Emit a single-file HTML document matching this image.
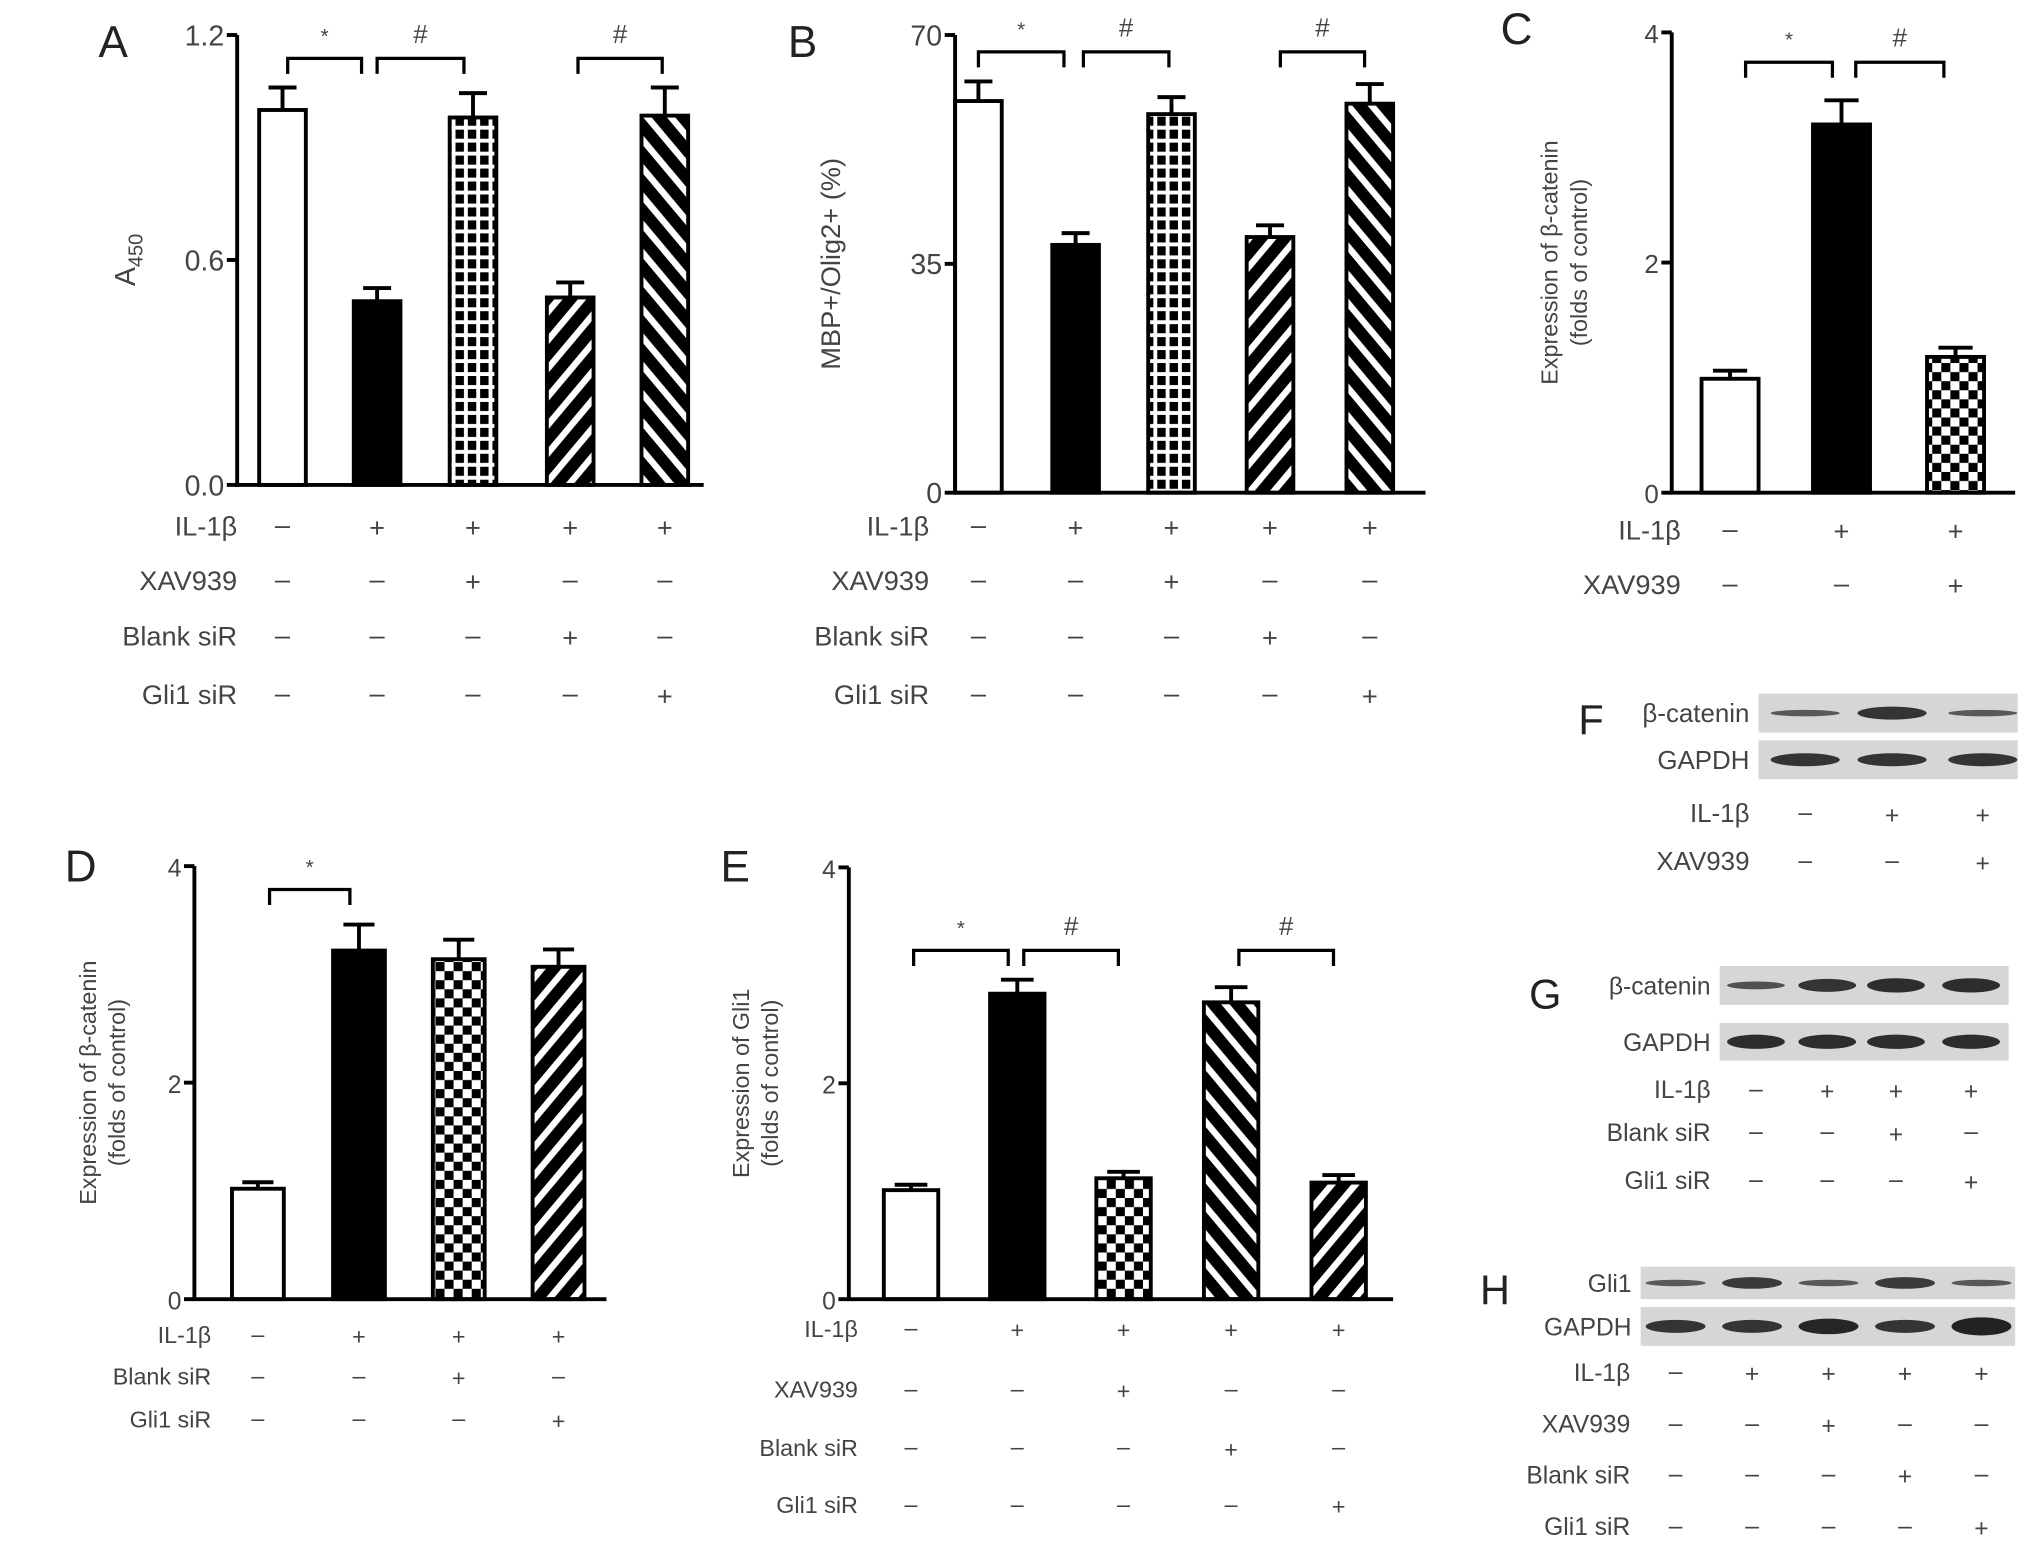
<!DOCTYPE html>
<html><head><meta charset="utf-8"><style>
html,body{margin:0;padding:0;background:#fff;}
svg{display:block;}
text{font-family:"Liberation Sans",sans-serif;fill:#444;}
</style></head><body>
<svg id="fig" xmlns="http://www.w3.org/2000/svg" width="2032" height="1552" viewBox="0 0 1568 1197" preserveAspectRatio="none">
<defs>
<pattern id="grid" patternUnits="userSpaceOnUse" width="9.5" height="10">
<rect width="9.5" height="10" fill="#000"/><rect x="0" y="7" width="9.5" height="3" fill="#fff"/><rect x="6.5" y="0" width="3" height="10" fill="#fff"/></pattern>
<pattern id="fwd" patternUnits="userSpaceOnUse" width="14" height="14" patternTransform="rotate(40)">
<rect width="14" height="14" fill="#000"/><rect x="0" y="0" width="5" height="14" fill="#fff"/></pattern>
<pattern id="back" patternUnits="userSpaceOnUse" width="14" height="14" patternTransform="rotate(-40)">
<rect width="14" height="14" fill="#000"/><rect x="0" y="0" width="5" height="14" fill="#fff"/></pattern>
<pattern id="check" patternUnits="userSpaceOnUse" width="14" height="14">
<rect width="14" height="14" fill="#fff"/><rect width="7" height="7" fill="#000"/><rect x="7" y="7" width="7" height="7" fill="#000"/></pattern>
</defs>
<g id="root"></g>
</svg>
<script>
const NS="http://www.w3.org/2000/svg";
// Panel data
const aValues=[1.0,0.49,0.98,0.50,0.985];
const aErrors=[0.06,0.035,0.065,0.04,0.075];
const aTicks=["0.0","0.6","1.2"];
const bValues=[59.9,37.9,57.9,39.1,59.5];
const bErrors=[3.0,1.8,2.6,1.8,3.0];
const bTicks=["0","35","70"];
const cValues=[0.99,3.2,1.18];
const cErrors=[0.07,0.21,0.08];
const cTicks=["0","2","4"];
const dValues=[1.02,3.22,3.14,3.07];
const dErrors=[0.06,0.24,0.18,0.16];
const dTicks=["0","2","4"];
const eValues=[1.01,2.83,1.12,2.75,1.08];
const eErrors=[0.05,0.13,0.06,0.14,0.07];
const eTicks=["0","2","4"];

const root=document.getElementById('root');
function el(tag,attrs,parent){const e=document.createElementNS(NS,tag);for(const k in attrs)e.setAttribute(k,attrs[k]);(parent||root).appendChild(e);return e;}
function txt(s,x,y,size,anchor,parent,extra){const t=el('text',Object.assign({x:x,y:y,'font-size':size,'text-anchor':anchor||'start'},extra||{}),parent);t.textContent=s;return t;}

function panel(p){
  const g=el('g',{});
  
  
  const ymax=p.ymax;
  const Y=v=>p.y0-(v/ymax)*(p.y0-p.ytop);
  const X=i=>p.xs[i];
  // bars
  p.values.forEach((v,i)=>{
    const b=el('rect',{x:X(i)-p.bw/2,y:Y(v),width:p.bw,height:p.y0-Y(v),fill:p.fills[i],stroke:'#000','stroke-width':3},g);
    
    
    const et=Y(v+p.errors[i]);
    const e=el('path',{d:`M${X(i)} ${Y(v)}V${et}M${X(i)-p.bw*0.3} ${et}H${X(i)+p.bw*0.3}`,stroke:'#000','stroke-width':3,fill:'none'},g);
    
    
  });
  // axes
  const ax=el('path',{d:`M${p.ax} ${p.ytop}V${p.y0}H${p.xend}`,stroke:'#000','stroke-width':3,fill:'none'},g);
  
  
  p.ticks.forEach((t,i)=>{
    const v=ymax*i/(p.ticks.length-1);
    el('path',{d:`M${p.ax-8} ${Y(v)}H${p.ax}`,stroke:'#000','stroke-width':3},g);
    const tl=txt(t,p.ax-10,Y(v)+8,p.tfs,'end',g);
    
    
  });
  // letter
  const L=txt(p.letter,p.lx,p.ly,34,'start',g,{style:'fill:#222'});
  
  
  // y title
  const yt=el('text',{transform:`translate(${p.ytx},${(p.y0+p.ytop)/2}) rotate(-90)`,'text-anchor':'middle','font-size':p.ytfs},g);
  
  
  p.ytitle.forEach((line,i)=>{const ts=el('tspan',{x:0,dy:i?p.ytfs*1.25:0},yt);ts.textContent=line;});
  if(p.sub){const ts=el('tspan',{'font-size':p.ytfs*0.7,dy:6},yt);ts.textContent=p.sub;}
  // brackets
  p.brackets.forEach(b=>{
    const bk=el('path',{d:`M${b[0]} ${b[2]+12}V${b[2]}H${b[1]}V${b[2]+12}`,stroke:'#000','stroke-width':2.5,fill:'none'},g);
    
    
    const s=txt(b[3],(b[0]+b[1])/2,b[2]-12,b[3]=='*'?16:20,'middle',g);
    
    
  });
  // condition rows
  p.rows.forEach(r=>{
    const rl=txt(r[0],p.rx,r[1]+8,p.rfs,'end',g);
    
    
    r[2].split('').forEach((c,i)=>{
      const m=txt(c=='+'?'+':'–',p.xs[i],r[1]+(c=='+'?9:7),p.rfs,'middle',g);
      
      
    });
  });
}

panel({name:'panel-a',letter:'A',lx:76,ly:44,values:aValues,errors:aErrors,ticks:aTicks,ymax:1.2,ax:183,ytop:27,y0:374,xend:543,
 xs:[218,291,365,440,513],bw:36,fills:['#fff','#000','url(#grid)','url(#fwd)','url(#back)'],tfs:22,
 ytx:104,ytitle:['A'],sub:'450',ytfs:22,
 brackets:[[222,279,45,'*'],[291,358,45,'#'],[446,511,45,'#']],rx:183,rfs:21,
 rows:[['IL-1β',405,'-++++'],['XAV939',447,'--+--'],['Blank siR',490,'---+-'],['Gli1 siR',535,'----+']]});
panel({name:'panel-b',letter:'B',lx:608,ly:44,values:bValues,errors:bErrors,ticks:bTicks,ymax:70,ax:737,ytop:27,y0:380,xend:1100,
 xs:[755,830,904,980,1057],bw:36,fills:['#fff','#000','url(#grid)','url(#fwd)','url(#back)'],tfs:22,
 ytx:648,ytitle:['MBP+/Olig2+ (%)'],ytfs:21,
 brackets:[[755,821,40,'*'],[836,902,40,'#'],[988,1053,40,'#']],rx:717,rfs:21,
 rows:[['IL-1β',405,'-++++'],['XAV939',447,'--+--'],['Blank siR',490,'---+-'],['Gli1 siR',535,'----+']]});
panel({name:'panel-c',letter:'C',lx:1158,ly:34,values:cValues,errors:cErrors,ticks:cTicks,ymax:4,ax:1290,ytop:25,y0:380,xend:1555,
 xs:[1335,1421,1509],bw:44,fills:['#fff','#000','url(#check)'],tfs:20,
 ytx:1202,ytitle:['Expression of β-catenin','(folds of control)'],ytfs:18,
 brackets:[[1347,1414,48,'*'],[1432,1500,48,'#']],rx:1297,rfs:21,
 rows:[['IL-1β',408,'-++'],['XAV939',450,'--+']]});
panel({name:'panel-d',letter:'D',lx:50,ly:680,values:dValues,errors:dErrors,ticks:dTicks,ymax:4,ax:150,ytop:668,y0:1002,xend:468,
 xs:[199,277,354,431],bw:40,fills:['#fff','#000','url(#check)','url(#fwd)'],tfs:19,
 ytx:74,ytitle:['Expression of β-catenin','(folds of control)'],ytfs:18,
 brackets:[[208,270,686,'*']],rx:163,rfs:18,
 rows:[['IL-1β',1028,'-+++'],['Blank siR',1060,'--+-'],['Gli1 siR',1093,'---+']]});
panel({name:'panel-e',letter:'E',lx:556,ly:680,values:eValues,errors:eErrors,ticks:eTicks,ymax:4,ax:655,ytop:669,y0:1002,xend:1075,
 xs:[703,785,867,950,1033],bw:42,fills:['#fff','#000','url(#check)','url(#back)','url(#fwd)'],tfs:19,
 ytx:578,ytitle:['Expression of Gli1','(folds of control)'],ytfs:18,
 brackets:[[705,778,733,'*'],[790,863,733,'#'],[956,1029,733,'#']],rx:662,rfs:18,
 rows:[['IL-1β',1023,'-++++'],['XAV939',1070,'--+--'],['Blank siR',1115,'---+-'],['Gli1 siR',1159,'----+']]});

// Western blots
function blot(name,letter,lx,ly,box,lanes,strips,rows,rx,fs,markFs){
  const g=el('g',{});
  
  
  const L=txt(letter,lx,ly,32,'start',g,{style:'fill:#222'});
  
  
  strips.forEach(s=>{
    const r=el('rect',{x:box[0],y:s[1],width:box[1]-box[0],height:s[2],fill:'#d6d6d6'},g);
    
    
    const t=txt(s[0],box[0]-7,s[1]+s[2]/2+7,fs,'end',g);
    
    
    s[3].forEach((h,i)=>{
      const w=(box[1]-box[0])/lanes.length*0.8;
      const b=el('ellipse',{cx:lanes[i],cy:s[1]+s[2]/2,rx:w/2,ry:h,fill:'#222',opacity:0.5+h*0.08},g);
      
      
    });
  });
  rows.forEach(r=>{
    const t=txt(r[0],rx,r[1]+7,fs,'end',g);
    
    
    r[2].split('').forEach((c,i)=>{
      const m=txt(c=='+'?'+':'–',lanes[i],r[1]+(c=='+'?8:6),markFs,'middle',g);
      
      
    });
  });
}
blot('blot-f','F',1218,566,[1357,1557],[1393,1460,1530],
 [['β-catenin',535,30,[2.5,5,2.5]],['GAPDH',571,30,[5,5,5]]],
 [['IL-1β',627,'-++'],['XAV939',664,'--+']],1350,20,19);
blot('blot-g','G',1180,778,[1327,1550],[1355,1410,1463,1521],
 [['β-catenin',745,30,[3,5,5.5,5.5]],['GAPDH',789,29,[5.5,5.5,5.5,5.5]]],
 [['IL-1β',840,'-+++'],['Blank siR',873,'--+-'],['Gli1 siR',910,'---+']],1320,19,19);
blot('blot-h','H',1142,1006,[1266,1555],[1293,1352,1411,1470,1529],
 [['Gli1',977,25,[2.5,4.5,2.5,4.5,2.5]],['GAPDH',1008,30,[5,5,6,5,7]]],
 [['IL-1β',1058,'-++++'],['XAV939',1098,'--+--'],['Blank siR',1137,'---+-'],['Gli1 siR',1177,'----+']],1258,19,19);
</script>
</body></html>
